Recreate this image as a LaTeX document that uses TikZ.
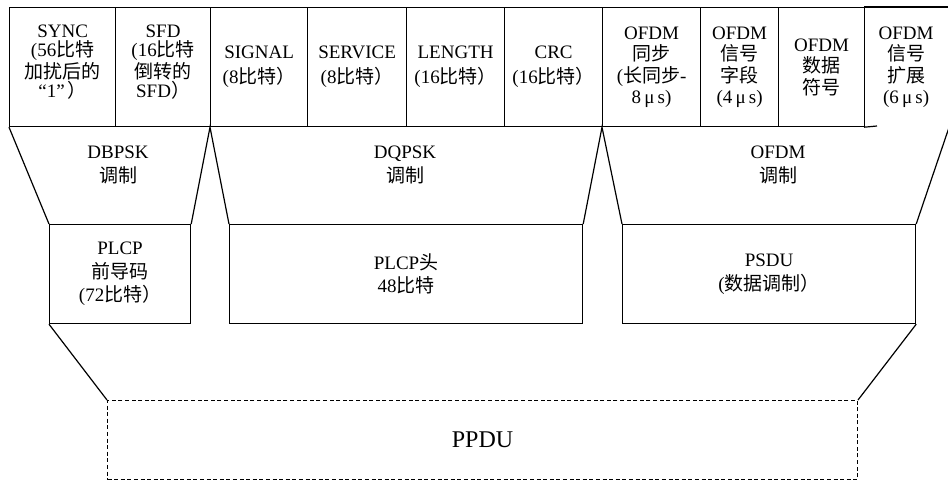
\documentclass[tikz,border=0pt]{standalone}
\usepackage{fontspec}
\setmainfont{Liberation Serif}
\newfontfamily\cjk{Noto Sans CJK SC}
\begin{document}
\begin{tikzpicture}[x=1pt,y=-1pt,
  every path/.style={line width=1.2pt},
  cell/.style={draw, line width=1.2pt, minimum height=119pt, inner sep=0pt, align=center, anchor=north west},
  fourl/.style={font=\fontsize{19}{19}\selectfont, align=center, inner sep=0pt},
  twol/.style={font=\fontsize{19}{25}\selectfont},
  ofdml/.style={font=\fontsize{19}{21.5}\selectfont},
  lab/.style={align=center, inner sep=0pt, font=\fontsize{19}{24}\selectfont},
  box/.style={draw, line width=1.2pt, minimum height=99pt, inner sep=0pt, align=center, anchor=north west, font=\fontsize{19}{23.5}\selectfont},
  dbox/.style={draw, line width=1pt, dash pattern=on 4pt off 2.6pt, minimum height=79pt, minimum width=750pt, inner sep=0pt, anchor=north west, font=\fontsize{24}{28}\selectfont}
]
\useasboundingbox (0,0) rectangle (948,480);
% top row
\node[cell,minimum width=106pt] (sync) at (9,7) {};
\node[fourl] (synct) at ([yshift=5pt]sync.center) {SYNC\\(56{\cjk 比特}\\{\cjk 加扰后的}\\“1”\,{\cjk ）}};
\node[cell,minimum width=95pt] (sfd) at (115,7) {};
\node[fourl] (sfdt) at ([yshift=5pt]sfd.center) {SFD\\(16{\cjk 比特}\\{\cjk 倒转的}\\SFD{\cjk ）}};
\node[cell,twol,minimum width=97pt] (signal) at (210,7) {SIGNAL\\(8{\cjk 比特）}};
\node[cell,twol,minimum width=99pt] (service) at (307,7) {SERVICE\\(8{\cjk 比特）}};
\node[cell,twol,minimum width=98pt] (length) at (406,7) {LENGTH\\(16{\cjk 比特）}};
\node[cell,twol,minimum width=98pt] (crc) at (504,7) {CRC\\(16{\cjk 比特）}};
\node[cell,ofdml,minimum width=98pt] (osync) at (602,7) {OFDM\\{\cjk 同步}\\({\cjk 长同步}-\\8\,μ\,s)};
\node[cell,ofdml,minimum width=78pt] (osig) at (700,7) {OFDM\\{\cjk 信号}\\{\cjk 字段}\\(4\,μ\,s)};
\node[cell,ofdml,minimum width=86pt] (odata) at (778,7) {OFDM\\{\cjk 数据}\\{\cjk 符号}};
\node[cell,ofdml,draw=none,minimum width=83pt] (oext) at (864,7) {OFDM\\{\cjk 信号}\\{\cjk 扩展}\\(6\,μ\,s)};
\draw (oext.north west) -- (oext.north east) -- (oext.south east);
\coordinate (extb) at (877,126);
\draw (oext.south west) -- (extb);
% modulation labels
\node[lab] (dbpsk) at (118,165) {DBPSK\\{\cjk 调制}};
\node[lab] (dqpsk) at (405,165) {DQPSK\\{\cjk 调制}};
\node[lab] (ofdm) at (778,165) {OFDM\\{\cjk 调制}};
% middle boxes
\node[box,minimum width=141pt] (plcp) at (49,224) {PLCP\\{\cjk 前导码}\\(72{\cjk 比特）}};
\node[box,minimum width=353pt] (plcph) at (229,224) {PLCP{\cjk 头}\\48{\cjk 比特}};
\node[box,minimum width=293pt] (psdu) at (622,224) {PSDU\\({\cjk 数据调制）}};
% PPDU
\node[dbox] (ppdu) at (107,400) {PPDU};
% connectors
\coordinate (rtop) at (949.5,126);
\draw (sync.south west) -- (plcp.north west);
\draw (plcp.north east) -- (signal.south west) -- (plcph.north west);
\draw (plcph.north east) -- (osync.south west) -- (psdu.north west);
\draw (psdu.north east) -- (rtop);
\draw (plcp.south west) -- (ppdu.north west);
\draw (psdu.south east) -- (ppdu.north east);
\end{tikzpicture}
\end{document}
